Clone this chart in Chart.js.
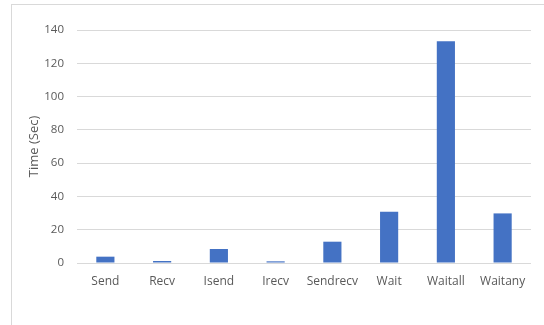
<!DOCTYPE html>
<html>
<head>
<meta charset="utf-8">
<script src="https://cdn.jsdelivr.net/npm/chart.js@4"></script>
<style>
  html, body { margin: 0; padding: 0; background: #fff; overflow: hidden; }
  #frame {
    position: absolute; left: 11px; top: 4px;
    width: 600px; height: 400px;
    border: 1px solid #d9d9d9;
  }
  #wrap { position: absolute; left: 0; top: 0; width: 544px; height: 325px; }
</style>
</head>
<body>
<div id="frame"></div>
<div id="wrap"><canvas id="chart"></canvas></div>
<script>
// MPI call timings
const categories = ['Send', 'Recv', 'Isend', 'Irecv', 'Sendrecv', 'Wait', 'Waitall', 'Waitany'];
const times = [3.8, 1.2, 8.4, 1.0, 12.8, 30.8, 133.2, 29.8];
const yTicks = [0, 20, 40, 60, 80, 100, 120, 140];

const textColor = '#595959';
const gridColor = '#d9d9d9';

new Chart(document.getElementById('chart'), {
    type: 'bar',
    data: {
        labels: categories,
        datasets: [{
            label: 'Time (Sec)',
            data: times,
            backgroundColor: '#4472c4',
            barPercentage: 0.32,
            categoryPercentage: 1
        }]
    },
    options: {
        responsive: true,
        maintainAspectRatio: false,
        animation: false,
        layout: { padding: { left: 0, right: 13, top: 30, bottom: 0 } },
        plugins: {
            legend: { display: false },
            tooltip: { enabled: false }
        },
        scales: {
            x: {
                grid: { display: false },
                border: { display: false },
                ticks: {
                    color: textColor,
                    font: { family: 'Open Sans', size: 12 },
                    padding: 3,
                    maxRotation: 0
                },
                afterFit: function(scale) { scale.height = 62; }
            },
            y: {
                min: 0,
                max: 140,
                afterBuildTicks: function(scale) {
                    scale.ticks = yTicks.map(v => ({ value: v }));
                },
                grid: { color: gridColor, lineWidth: 1, drawTicks: false },
                border: { display: false },
                ticks: {
                    color: textColor,
                    font: { family: 'Open Sans', size: 11.5 },
                    padding: 13
                },
                title: {
                    display: true,
                    text: 'Time (Sec)',
                    color: textColor,
                    font: { family: 'Open Sans', size: 13 },
                    padding: { top: 26, bottom: 0 }
                },
                afterFit: function(scale) { scale.width = 77; }
            }
        }
    }
});
</script>
</body>
</html>
